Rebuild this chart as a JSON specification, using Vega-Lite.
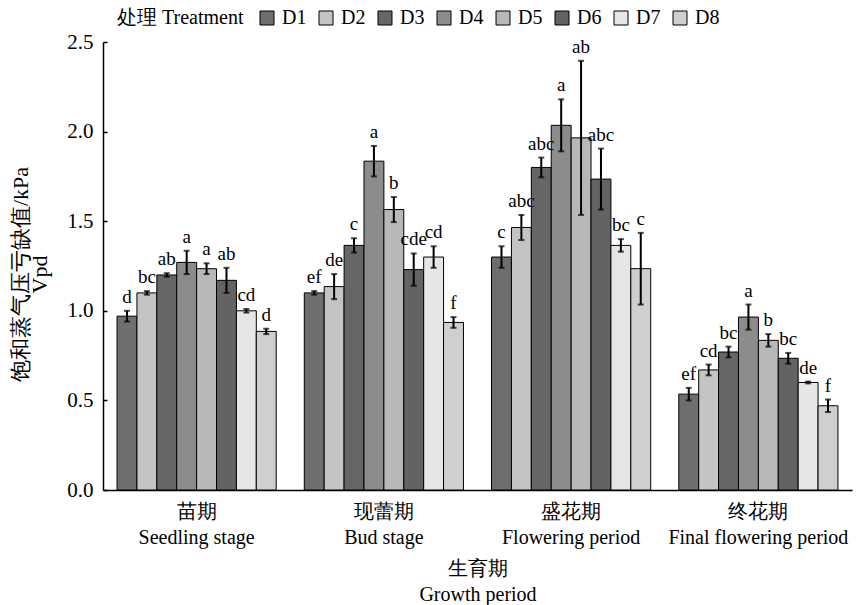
{
  "$schema": "https://vega.github.io/schema/vega-lite/v6.json",
  "width": 749,
  "height": 448,
  "autosize": {"type": "none"},
  "padding": {"left": 103, "top": 42, "right": 4, "bottom": 115},
  "background": "white",
  "config": {
    "view": {"stroke": null},
    "font": "Liberation Serif",
    "axis": {"domainColor": "black", "domainWidth": 1.5, "tickColor": "black", "labelColor": "black", "titleColor": "black", "grid": false, "titleFontWeight": "normal", "labelFont": "Liberation Serif", "titleFont": "Liberation Serif"},
    "legend": {"labelFont": "Liberation Serif", "titleFont": "Liberation Serif"},
    "text": {"font": "Liberation Serif"}
  },
  "data": {
    "values": [
      {"period": "苗期|Seedling stage", "t": "D1", "v": 0.97, "lo": 0.94, "hi": 1.0, "sig": "d"},
      {"period": "苗期|Seedling stage", "t": "D2", "v": 1.10, "lo": 1.09, "hi": 1.11, "sig": "bc"},
      {"period": "苗期|Seedling stage", "t": "D3", "v": 1.20, "lo": 1.19, "hi": 1.21, "sig": "ab"},
      {"period": "苗期|Seedling stage", "t": "D4", "v": 1.27, "lo": 1.205, "hi": 1.335, "sig": "a"},
      {"period": "苗期|Seedling stage", "t": "D5", "v": 1.235, "lo": 1.205, "hi": 1.265, "sig": "a"},
      {"period": "苗期|Seedling stage", "t": "D6", "v": 1.17, "lo": 1.10, "hi": 1.24, "sig": "ab"},
      {"period": "苗期|Seedling stage", "t": "D7", "v": 1.00, "lo": 0.99, "hi": 1.01, "sig": "cd"},
      {"period": "苗期|Seedling stage", "t": "D8", "v": 0.885, "lo": 0.87, "hi": 0.90, "sig": "d"},
      {"period": "现蕾期|Bud stage", "t": "D1", "v": 1.10, "lo": 1.09, "hi": 1.11, "sig": "ef"},
      {"period": "现蕾期|Bud stage", "t": "D2", "v": 1.135, "lo": 1.065, "hi": 1.205, "sig": "de"},
      {"period": "现蕾期|Bud stage", "t": "D3", "v": 1.365, "lo": 1.325, "hi": 1.405, "sig": "c"},
      {"period": "现蕾期|Bud stage", "t": "D4", "v": 1.835, "lo": 1.75, "hi": 1.92, "sig": "a"},
      {"period": "现蕾期|Bud stage", "t": "D5", "v": 1.565, "lo": 1.495, "hi": 1.635, "sig": "b"},
      {"period": "现蕾期|Bud stage", "t": "D6", "v": 1.23, "lo": 1.14, "hi": 1.32, "sig": "cde"},
      {"period": "现蕾期|Bud stage", "t": "D7", "v": 1.30, "lo": 1.24, "hi": 1.36, "sig": "cd"},
      {"period": "现蕾期|Bud stage", "t": "D8", "v": 0.935, "lo": 0.905, "hi": 0.965, "sig": "f"},
      {"period": "盛花期|Flowering period", "t": "D1", "v": 1.30, "lo": 1.24, "hi": 1.36, "sig": "c"},
      {"period": "盛花期|Flowering period", "t": "D2", "v": 1.465, "lo": 1.395, "hi": 1.535, "sig": "abc"},
      {"period": "盛花期|Flowering period", "t": "D3", "v": 1.80, "lo": 1.745, "hi": 1.855, "sig": "abc"},
      {"period": "盛花期|Flowering period", "t": "D4", "v": 2.035, "lo": 1.89, "hi": 2.18, "sig": "a"},
      {"period": "盛花期|Flowering period", "t": "D5", "v": 1.965, "lo": 1.535, "hi": 2.395, "sig": "ab"},
      {"period": "盛花期|Flowering period", "t": "D6", "v": 1.735, "lo": 1.565, "hi": 1.905, "sig": "abc"},
      {"period": "盛花期|Flowering period", "t": "D7", "v": 1.365, "lo": 1.33, "hi": 1.40, "sig": "bc"},
      {"period": "盛花期|Flowering period", "t": "D8", "v": 1.235, "lo": 1.035, "hi": 1.435, "sig": "c"},
      {"period": "终花期|Final flowering period", "t": "D1", "v": 0.535, "lo": 0.50, "hi": 0.57, "sig": "ef"},
      {"period": "终花期|Final flowering period", "t": "D2", "v": 0.67, "lo": 0.64, "hi": 0.70, "sig": "cd"},
      {"period": "终花期|Final flowering period", "t": "D3", "v": 0.77, "lo": 0.74, "hi": 0.80, "sig": "bc"},
      {"period": "终花期|Final flowering period", "t": "D4", "v": 0.965, "lo": 0.895, "hi": 1.035, "sig": "a"},
      {"period": "终花期|Final flowering period", "t": "D5", "v": 0.835, "lo": 0.80, "hi": 0.87, "sig": "b"},
      {"period": "终花期|Final flowering period", "t": "D6", "v": 0.735, "lo": 0.705, "hi": 0.765, "sig": "bc"},
      {"period": "终花期|Final flowering period", "t": "D7", "v": 0.60, "lo": 0.595, "hi": 0.605, "sig": "de"},
      {"period": "终花期|Final flowering period", "t": "D8", "v": 0.47, "lo": 0.435, "hi": 0.505, "sig": "f"}
    ]
  },
  "encoding": {
    "x": {
      "field": "period",
      "type": "nominal",
      "sort": ["苗期|Seedling stage", "现蕾期|Bud stage", "盛花期|Flowering period", "终花期|Final flowering period"],
      "scale": {"paddingInner": 0.15, "paddingOuter": 0.075},
      "axis": {
        "title": ["生育期", "Growth period"],
        "titleFont": "Liberation Serif",
        "titleFontSize": 20,
        "titleLineHeight": 26,
        "titlePadding": 11,
        "labelFont": "Liberation Serif",
        "labelExpr": "split(datum.label, '|')",
        "labelFontSize": 20,
        "labelLineHeight": 26,
        "labelPadding": 11,
        "labelAngle": 0,
        "labelBaseline": "top",
        "labelLimit": 0,
        "labelOverlap": false,
        "ticks": false
      }
    },
    "xOffset": {"field": "t", "type": "nominal", "sort": ["D1", "D2", "D3", "D4", "D5", "D6", "D7", "D8"]}
  },
  "layer": [
    {
      "mark": {"type": "bar", "stroke": "black", "strokeWidth": 1},
      "encoding": {
        "y": {
          "field": "v",
          "type": "quantitative",
          "scale": {"domain": [0, 2.5], "nice": false},
          "axis": {
            "values": [0, 0.5, 1, 1.5, 2, 2.5],
            "format": ".1f",
            "title": ["饱和蒸气压亏缺值/kPa", "Vpd"],
            "titleFont": "Liberation Serif",
            "titleFontSize": 22,
            "titleLineHeight": 19,
            "titlePadding": 15,
            "titleY": 232,
            "labelFont": "Liberation Serif",
            "labelFontSize": 21,
            "labelPadding": 14,
            "tickSize": -4,
            "tickWidth": 1.5
          }
        },
        "fill": {
          "field": "t",
          "type": "nominal",
          "scale": {
            "domain": ["D1", "D2", "D3", "D4", "D5", "D6", "D7", "D8"],
            "range": ["#6e6e6e", "#c4c4c4", "#666666", "#8c8c8c", "#b8b8b8", "#636363", "#e6e6e6", "#cfcfcf"]
          },
          "legend": {
            "title": "处理 Treatment",
            "orient": "none",
            "legendX": 14,
            "legendY": -34,
            "direction": "horizontal",
            "titleOrient": "left",
            "titleFont": "Liberation Serif",
            "titleFontSize": 20,
            "titleFontWeight": "normal",
            "titlePadding": 13,
            "labelFont": "Liberation Serif",
            "labelFontSize": 20,
            "labelOffset": 5,
            "columnPadding": 9,
            "symbolType": "square",
            "symbolSize": 196,
            "symbolStrokeColor": "black",
            "symbolStrokeWidth": 1
          }
        }
      }
    },
    {
      "mark": {"type": "rule", "color": "black", "strokeWidth": 2},
      "encoding": {
        "y": {"field": "lo", "type": "quantitative"},
        "y2": {"field": "hi"}
      }
    },
    {
      "mark": {"type": "tick", "color": "black", "size": 6, "thickness": 2},
      "encoding": {"y": {"field": "hi", "type": "quantitative"}}
    },
    {
      "mark": {"type": "tick", "color": "black", "size": 6, "thickness": 2},
      "encoding": {"y": {"field": "lo", "type": "quantitative"}}
    },
    {
      "mark": {"type": "text", "baseline": "alphabetic", "dy": -8, "fontSize": 19, "color": "black", "font": "Liberation Serif"},
      "encoding": {
        "y": {"field": "hi", "type": "quantitative"},
        "text": {"field": "sig"}
      }
    }
  ]
}
